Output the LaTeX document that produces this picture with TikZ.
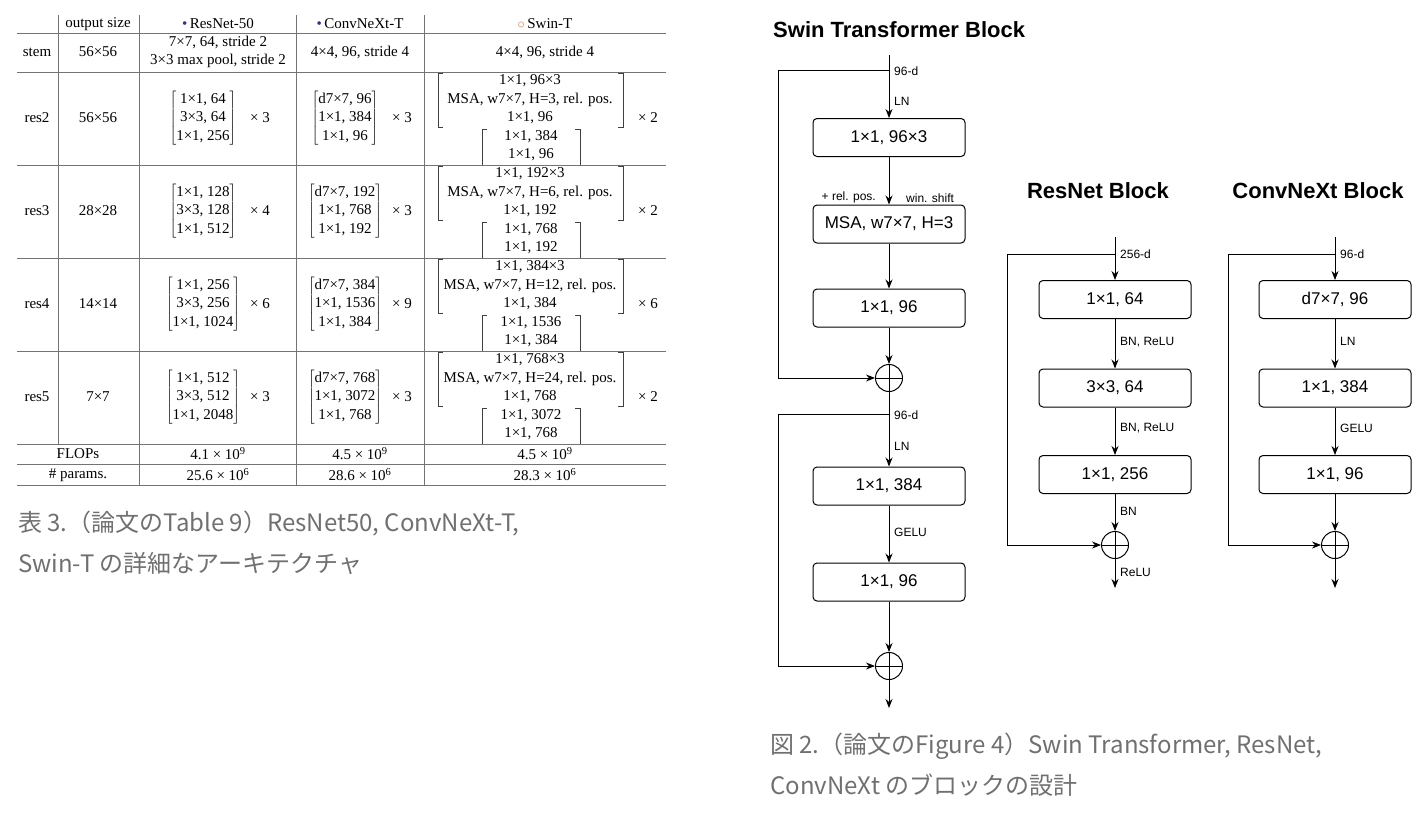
\documentclass[tikz,border=0pt]{standalone}
\usepackage{fontspec}
\setmainfont{Liberation Serif}
\newfontfamily\sansfam{Liberation Sans}
\newfontfamily\cjkfam{Noto Sans CJK JP}
\usetikzlibrary{arrows.meta}
\definecolor{capgray}{RGB}{112,112,112}
\definecolor{dotblue}{RGB}{55,45,140}
\definecolor{dotorange}{RGB}{230,120,70}
\newcommand{\tabfnt}{\fontsize{15}{18.5}\selectfont}
\newcommand{\ttx}{\texttimes}

\tikzset{
  box/.style={draw, rounded corners=4pt, minimum width=152pt, minimum height=38pt,
    inner sep=0pt, line width=1pt, font=\sansfam\fontsize{17}{20}\selectfont},
  lbl/.style={anchor=west, inner sep=1pt, font=\sansfam\fontsize{12}{14}\selectfont},
  ttl/.style={inner sep=0pt, font=\sansfam\bfseries\fontsize{22}{26}\selectfont},
  sum/.style={circle, draw, minimum size=27pt, inner sep=0pt, line width=1pt,
    path picture={\draw[line width=1pt] (path picture bounding box.north) -- (path picture bounding box.south)
      (path picture bounding box.west) -- (path picture bounding box.east);}},
  arr/.style={-{Stealth[length=9pt,width=7pt]}, line width=1pt},
  cell/.style={inner sep=0pt, align=center, font=\tabfnt},
  rule/.style={draw=black!55, line width=0.8pt},
  brk/.style={draw=black!75, line width=0.9pt},
  captxt/.style={anchor=west, inner sep=0pt, text=capgray, font=\cjkfam\fontsize{24}{28}\selectfont}
}

\begin{document}
\begin{tikzpicture}[x=1pt, y=-1pt]
\useasboundingbox (0,0) rectangle (1426,814);

% table rules
\foreach \y in {33, 72, 165, 258, 351, 444, 464, 485} {
  \draw[rule] (17,\y) -- (666,\y);
}
\draw[rule] (58,15) -- (58,444);
\foreach \x in {139, 296, 424} {
  \draw[rule] (\x,15) -- (\x,485);
}

% header
\node[cell] (hout) at (98,24) {output size};
\node[cell] (hres) at (218,24) {\textcolor{dotblue}{\textbullet}\,ResNet-50};
\node[cell] (hcnx) at (360,24) {\textcolor{dotblue}{\textbullet}\,ConvNeXt-T};
\node[cell] (hswin) at (545,24) {\textcolor{dotorange}{$\circ$}\,Swin-T};

% stem
\node[cell] (stem) at (37,52) {stem};
\node[cell] (stemout) at (98,52) {56\ttx56};
\node[cell] (stemres) at (218,52) {7\ttx7, 64, stride 2\\3\ttx3 max pool, stride 2};
\node[cell] (stemcnx) at (360,52) {4\ttx4, 96, stride 4};
\node[cell] (stemswin) at (545,52) {4\ttx4, 96, stride 4};

% stages: name/top/size/resnet widths/resnet mult/convnext widths/mult/swin widths/mult/heads
\foreach \name/\ytop/\osz/\ra/\rb/\rc/\rmul/\cb/\cmul/\sw/\swb/\smul/\heads in {
  res2/72/56/64/64/256/3/384/3/96/384/2/3,
  res3/165/28/128/128/512/4/768/3/192/768/2/6,
  res4/258/14/256/256/1024/6/1536/9/384/1536/6/12,
  res5/351/7/512/512/2048/3/3072/3/768/3072/2/24} {
  \node[cell] (\name) at (37,\ytop+46) {\name};
  \node[cell] (\name out) at (98,\ytop+46) {\osz\ttx\osz};
  \node[cell] (\name res) at (203,\ytop+46)
    {$\left[\begin{tabular}{@{}c@{}}1\ttx1, \ra\\3\ttx3, \rb\\1\ttx1, \rc\end{tabular}\right]$};
  \node[cell] (\name resm) at (260,\ytop+46) {\ttx\ \rmul};
  \node[cell] (\name cnx) at (345,\ytop+46)
    {$\left[\begin{tabular}{@{}c@{}}d7\ttx7, \sw\\1\ttx1, \cb\\1\ttx1, \sw\end{tabular}\right]$};
  \node[cell] (\name cnxm) at (402,\ytop+46) {\ttx\ \cmul};
  % swin
  \node[cell] (\name swa) at (530,\ytop+9) {1\ttx1, \sw\ttx3};
  \node[cell] (\name swb) at (530,\ytop+28) {MSA, w7\ttx7, H=\heads, rel. pos.};
  \node[cell] (\name swc) at (530,\ytop+46) {1\ttx1, \sw};
  \node[cell] (\name swd) at (531,\ytop+65) {1\ttx1, \swb};
  \node[cell] (\name swe) at (531,\ytop+83) {1\ttx1, \sw};
  \node[cell] (\name swm) at (648,\ytop+46) {\ttx\ \smul};
  \draw[brk] (443,\ytop+1) -- (438,\ytop+1) -- (438,\ytop+55) -- (443,\ytop+55);
  \draw[brk] (618,\ytop+1) -- (623,\ytop+1) -- (623,\ytop+55) -- (618,\ytop+55);
  \draw[brk] (487,\ytop+57) -- (482,\ytop+57) -- (482,\ytop+93);
  \draw[brk] (575,\ytop+57) -- (580,\ytop+57) -- (580,\ytop+93);
}

% FLOPs and params
\node[cell] (flops) at (78,454) {FLOPs};
\node[cell] (flopsres) at (218,454) {4.1 \ttx\ 10\textsuperscript{9}};
\node[cell] (flopscnx) at (360,454) {4.5 \ttx\ 10\textsuperscript{9}};
\node[cell] (flopsswin) at (545,454) {4.5 \ttx\ 10\textsuperscript{9}};
\node[cell] (params) at (78,475) {\# params.};
\node[cell] (paramsres) at (218,475) {25.6 \ttx\ 10\textsuperscript{6}};
\node[cell] (paramscnx) at (360,475) {28.6 \ttx\ 10\textsuperscript{6}};
\node[cell] (paramsswin) at (545,475) {28.3 \ttx\ 10\textsuperscript{6}};

% Swin Transformer block
\node[ttl, anchor=west] (swtitle) at (773,30) {Swin Transformer Block};
\coordinate (sin) at (889,55);
\coordinate (sk1) at (889,70);
\coordinate (sl1) at (778,70);
\node[box] (s1) at (889,137.5) {1×1, 96×3};
\node[box] (s2) at (889,224) {MSA, w7×7, H=3};
\node[box] (s3) at (889,308) {1×1, 96};
\node[sum] (sa) at (889,378) {};
\coordinate (sk2) at (889,414);
\coordinate (sl2) at (778,414);
\node[box] (s4) at (889,486) {1×1, 384};
\node[box] (s5) at (889,582) {1×1, 96};
\node[sum] (sb) at (889,666) {};
\coordinate (sout) at (889,708);

\draw[arr] (sin) -- (s1);
\draw[arr] (s1) -- (s2);
\draw[arr] (s2) -- (s3);
\draw[arr] (s3) -- (sa);
\draw[arr] (sa) -- (s4);
\draw[arr] (s4) -- (s5);
\draw[arr] (s5) -- (sb);
\draw[arr] (sb) -- (sout);
\draw[arr] (sk1) -- (sl1) |- (sa);
\draw[arr] (sk2) -- (sl2) |- (sb);

\node[lbl] at (893,71) {96-d};
\node[lbl] at (893,101) {LN};
\node[lbl, anchor=east] at (877,197) {+ rel. pos.};
\node[lbl] at (905,198) {win. shift};
\node[lbl] at (893,415) {96-d};
\node[lbl] at (893,446) {LN};
\node[lbl] at (893,532) {GELU};

% ResNet block
\node[ttl] (rntitle) at (1098,191) {ResNet Block};
\coordinate (rin) at (1115,237);
\coordinate (rk) at (1115,254);
\coordinate (rl) at (1007,254);
\node[box] (r1) at (1115,299.5) {1×1, 64};
\node[box] (r2) at (1115,388) {3×3, 64};
\node[box] (r3) at (1115,474.5) {1×1, 256};
\node[sum] (ra) at (1115,545) {};
\coordinate (rout) at (1115,588);

\draw[arr] (rin) -- (r1);
\draw[arr] (r1) -- (r2);
\draw[arr] (r2) -- (r3);
\draw[arr] (r3) -- (ra);
\draw[arr] (ra) -- (rout);
\draw[arr] (rk) -- (rl) |- (ra);

\node[lbl] at (1119,254) {256-d};
\node[lbl] at (1119,342) {BN, ReLU};
\node[lbl] at (1119,428) {BN, ReLU};
\node[lbl] at (1119,511) {BN};
\node[lbl] at (1119,572) {ReLU};

% ConvNeXt block
\node[ttl] (cntitle) at (1318,191) {ConvNeXt Block};
\coordinate (cin) at (1335,237);
\coordinate (ck) at (1335,254);
\coordinate (cl) at (1228,254);
\node[box] (c1) at (1335,299.5) {d7×7, 96};
\node[box] (c2) at (1335,388) {1×1, 384};
\node[box] (c3) at (1335,474.5) {1×1, 96};
\node[sum] (ca) at (1335,545) {};
\coordinate (cout) at (1335,588);

\draw[arr] (cin) -- (c1);
\draw[arr] (c1) -- (c2);
\draw[arr] (c2) -- (c3);
\draw[arr] (c3) -- (ca);
\draw[arr] (ca) -- (cout);
\draw[arr] (ck) -- (cl) |- (ca);

\node[lbl] at (1339,254) {96-d};
\node[lbl] at (1339,341) {LN};
\node[lbl] at (1339,428) {GELU};

% captions
\node[captxt] (tabcap1) at (18,523) {表 3.（論文のTable 9）ResNet50, ConvNeXt-T,};
\node[captxt] (tabcap2) at (18,563) {Swin-T の詳細なアーキテクチャ};
\node[captxt] (figcap1) at (770,746) {図 2.（論文のFigure 4）Swin Transformer, ResNet,};
\node[captxt] (figcap2) at (770,785) {ConvNeXt のブロックの設計};

\end{tikzpicture}
\end{document}
